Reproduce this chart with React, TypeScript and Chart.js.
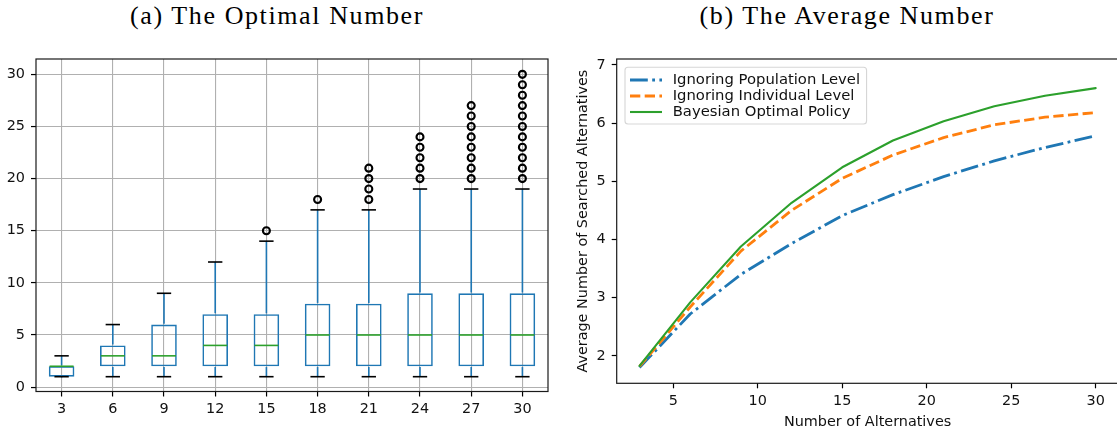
import React, { useEffect, useRef } from "react";
import { Chart, registerables } from "chart.js";

Chart.register(...registerables);

// ---------- Data: (a) The Optimal Number (box plot) ----------
const boxCategories = ["3", "6", "9", "12", "15", "18", "21", "24", "27", "30"];
const whiskerLow = [1, 1, 1, 1, 1, 1, 1, 1, 1, 1];
const quartile1 = [1, 2, 2, 2, 2, 2, 2, 2, 2, 2];
const medians = [2, 3, 3, 4, 4, 5, 5, 5, 5, 5];
const quartile3 = [2, 4, 6, 7, 7, 8, 8, 9, 9, 9];
const whiskerHigh = [3, 6, 9, 12, 14, 17, 17, 19, 19, 19];
const outliers = [
  [],
  [],
  [],
  [],
  [15],
  [18],
  [18, 19, 20, 21],
  [20, 21, 22, 23, 24],
  [20, 21, 22, 23, 24, 25, 26, 27],
  [20, 21, 22, 23, 24, 25, 26, 27, 28, 29, 30],
];
const boxYTicks = [0, 5, 10, 15, 20, 25, 30];

// ---------- Data: (b) The Average Number (lines) ----------
const alternatives = [3, 6, 9, 12, 15, 18, 21, 24, 27, 30];
const ignoringPopulation = [1.8, 2.72, 3.4, 3.93, 4.41, 4.77, 5.08, 5.35, 5.58, 5.78];
const ignoringIndividual = [1.82, 2.84, 3.8, 4.5, 5.05, 5.45, 5.75, 5.97, 6.1, 6.18];
const bayesianOptimal = [1.83, 2.92, 3.88, 4.63, 5.24, 5.7, 6.03, 6.29, 6.47, 6.6];
const seriesLabels = ["Ignoring Population Level", "Ignoring Individual Level", "Bayesian Optimal Policy"];
const lineXTicks = [5, 10, 15, 20, 25, 30];
const lineYTicks = [2, 3, 4, 5, 6, 7];

const BLUE = "#1f77b4";
const ORANGE = "#ff7f0e";
const GREEN = "#2ca02c";
const GRID = "#b0b0b0";
const TEXT = "#111";
const SANS = "'DejaVu Sans', sans-serif";
const FS = 14.4;

const framePlugin = {
  id: "frame",
  afterDatasetsDraw(chart: any) {
    const { ctx, chartArea } = chart;
    ctx.save();
    ctx.strokeStyle = "#1a1a1a";
    ctx.lineWidth = 1.2;
    ctx.strokeRect(chartArea.left, chartArea.top, chartArea.right - chartArea.left, chartArea.bottom - chartArea.top);
    ctx.restore();
  },
};

const boxPartsPlugin = {
  id: "boxParts",
  afterDatasetsDraw(chart: any) {
    const { ctx } = chart;
    const xs = chart.scales.x;
    const ys = chart.scales.y;
    const catW = xs.getPixelForValue(1) - xs.getPixelForValue(0);
    const boxHalf = catW * 0.25;
    const capHalf = catW * 0.14;
    const seg = (x1: number, y1: number, x2: number, y2: number, color: string, w: number) => {
      ctx.beginPath();
      ctx.strokeStyle = color;
      ctx.lineWidth = w;
      ctx.moveTo(x1, y1);
      ctx.lineTo(x2, y2);
      ctx.stroke();
    };
    ctx.save();
    ctx.lineCap = "butt";
    boxCategories.forEach((_, i) => {
      const cx = xs.getPixelForValue(i);
      const yLow = ys.getPixelForValue(whiskerLow[i]);
      const yQ1 = ys.getPixelForValue(quartile1[i]);
      const yQ3 = ys.getPixelForValue(quartile3[i]);
      const yHigh = ys.getPixelForValue(whiskerHigh[i]);
      const yMed = ys.getPixelForValue(medians[i]);
      seg(cx, yQ3 - 0.8, cx, yHigh, BLUE, 1.6);
      seg(cx, yQ1 + 0.8, cx, yLow, BLUE, 1.6);
      seg(cx - capHalf, yHigh, cx + capHalf, yHigh, "#000", 1.6);
      seg(cx - capHalf, yLow, cx + capHalf, yLow, "#000", 1.6);
      seg(cx - boxHalf + 0.8, yMed, cx + boxHalf - 0.8, yMed, GREEN, 1.6);
    });
    ctx.restore();
  },
};

const legendPlugin = {
  id: "mplLegend",
  afterDraw(chart: any) {
    const { ctx, chartArea } = chart;
    const x0 = chartArea.left + 8.3;
    const y0 = chartArea.top + 8.3;
    ctx.save();
    ctx.font = `14.8px ${SANS}`;
    const widths = chart.data.datasets.map((d: any) => ctx.measureText(d.label).width);
    const maxW = Math.max(...widths);
    const w = 47.7 + maxW + 6.5;
    const h = 56.7;
    const r = 3;
    ctx.beginPath();
    ctx.moveTo(x0 + r, y0);
    ctx.lineTo(x0 + w - r, y0);
    ctx.arcTo(x0 + w, y0, x0 + w, y0 + r, r);
    ctx.lineTo(x0 + w, y0 + h - r);
    ctx.arcTo(x0 + w, y0 + h, x0 + w - r, y0 + h, r);
    ctx.lineTo(x0 + r, y0 + h);
    ctx.arcTo(x0, y0 + h, x0, y0 + h - r, r);
    ctx.lineTo(x0, y0 + r);
    ctx.arcTo(x0, y0, x0 + r, y0, r);
    ctx.closePath();
    ctx.fillStyle = "rgba(255,255,255,0.8)";
    ctx.fill();
    ctx.strokeStyle = "rgba(204,204,204,0.8)";
    ctx.lineWidth = 1.1;
    ctx.stroke();
    chart.data.datasets.forEach((d: any, i: number) => {
      const cy = y0 + 12.7 + i * 16;
      ctx.beginPath();
      ctx.setLineDash(d.borderDash || []);
      ctx.strokeStyle = d.borderColor;
      ctx.lineWidth = d.borderWidth;
      ctx.lineCap = "butt";
      ctx.moveTo(x0 + 5, cy);
      ctx.lineTo(x0 + 37, cy);
      ctx.stroke();
      ctx.setLineDash([]);
      ctx.fillStyle = TEXT;
      ctx.textBaseline = "middle";
      ctx.textAlign = "left";
      ctx.fillText(d.label, x0 + 47.7, cy + 0.5);
    });
    ctx.restore();
  },
};

function BoxChart() {
  const ref = useRef<HTMLCanvasElement | null>(null);
  useEffect(() => {
    if (!ref.current) return;
    const outlierPoints: { x: string; y: number }[] = [];
    outliers.forEach((vals, i) => vals.forEach((v) => outlierPoints.push({ x: boxCategories[i], y: v })));
    const chart = new Chart(ref.current, {
      type: "bar",
      data: {
        labels: boxCategories,
        datasets: [
          {
            type: "bar",
            data: quartile1.map((q, i) => [q, quartile3[i]]) as any,
            backgroundColor: "rgba(0,0,0,0)",
            borderColor: BLUE,
            borderWidth: 1.6,
            borderSkipped: false,
            barPercentage: 0.5,
            categoryPercentage: 1,
          } as any,
          {
            type: "line",
            data: outlierPoints as any,
            showLine: false,
            pointStyle: "circle",
            pointRadius: 3.5,
            pointBorderWidth: 2.1,
            pointBorderColor: "#000",
            pointBackgroundColor: "rgba(0,0,0,0)",
          } as any,
        ],
      },
      options: {
        animation: false,
        responsive: false,
        events: [],
        layout: { padding: { left: 0, top: 59, right: 12, bottom: 0 } },
        plugins: { legend: { display: false }, tooltip: { enabled: false }, title: { display: false } },
        scales: {
          x: {
            type: "category",
            offset: true,
            grid: { offset: false, color: GRID, lineWidth: 1.1, tickLength: 5, tickColor: "#000", tickWidth: 1.2 },
            border: { display: false },
            ticks: { font: { family: SANS, size: FS }, color: TEXT, padding: 4, maxRotation: 0, autoSkip: false },
            afterFit: (s: any) => {
              s.height = 42.5;
            },
          },
          y: {
            type: "linear",
            min: -0.42,
            max: 31.47,
            grid: { color: GRID, lineWidth: 1.1, tickLength: 5, tickColor: "#000", tickWidth: 1.2 },
            border: { display: false },
            afterBuildTicks: (s: any) => {
              s.ticks = boxYTicks.map((v) => ({ value: v }));
            },
            ticks: { font: { family: SANS, size: FS }, color: TEXT, padding: 6 },
            afterFit: (s: any) => {
              s.width = 36;
            },
          },
        },
      } as any,
      plugins: [framePlugin, boxPartsPlugin],
    });
    return () => chart.destroy();
  }, []);
  return <canvas ref={ref} width={560} height={434} style={{ position: "absolute", left: 0, top: 0, width: 560, height: 434 }} />;
}

function LineChart() {
  const ref = useRef<HTMLCanvasElement | null>(null);
  useEffect(() => {
    if (!ref.current) return;
    const chart = new Chart(ref.current, {
      type: "line",
      data: {
        labels: alternatives,
        datasets: [
          {
            label: seriesLabels[0],
            data: alternatives.map((x, i) => ({ x, y: ignoringPopulation[i] })),
            borderColor: BLUE,
            backgroundColor: BLUE,
            borderWidth: 2.8,
            borderDash: [17.8, 4.4, 2.8, 4.4],
            borderCapStyle: "butt",
            borderJoinStyle: "round",
            pointRadius: 0,
            tension: 0,
            order: 2,
          },
          {
            label: seriesLabels[1],
            data: alternatives.map((x, i) => ({ x, y: ignoringIndividual[i] })),
            borderColor: ORANGE,
            backgroundColor: ORANGE,
            borderWidth: 2.8,
            borderDash: [10.3, 4.4],
            borderCapStyle: "butt",
            borderJoinStyle: "round",
            pointRadius: 0,
            tension: 0,
            order: 1,
          },
          {
            label: seriesLabels[2],
            data: alternatives.map((x, i) => ({ x, y: bayesianOptimal[i] })),
            borderColor: GREEN,
            backgroundColor: GREEN,
            borderWidth: 2.1,
            borderCapStyle: "round",
            borderJoinStyle: "round",
            pointRadius: 0,
            tension: 0,
            order: 0,
          },
        ],
      },
      options: {
        animation: false,
        responsive: false,
        events: [],
        layout: { padding: { left: 0, top: 59, right: 11.5, bottom: 0 } },
        plugins: { legend: { display: false }, tooltip: { enabled: false }, title: { display: false } },
        scales: {
          x: {
            type: "linear",
            min: 1.65,
            max: 31.35,
            grid: { drawOnChartArea: false, drawTicks: true, tickLength: 5, tickColor: "#000", tickWidth: 1.2 },
            border: { display: false },
            afterBuildTicks: (s: any) => {
              s.ticks = lineXTicks.map((v) => ({ value: v }));
            },
            ticks: { font: { family: SANS, size: FS }, color: TEXT, padding: 4, maxRotation: 0 },
            title: {
              display: true,
              text: "Number of Alternatives",
              font: { family: SANS, size: FS },
              color: TEXT,
              padding: { top: 0, bottom: 3.4 },
            },
            afterFit: (s: any) => {
              s.height = 50.7;
            },
          },
          y: {
            type: "linear",
            min: 1.53,
            max: 7.1,
            grid: { drawOnChartArea: false, drawTicks: true, tickLength: 5, tickColor: "#000", tickWidth: 1.2 },
            border: { display: false },
            afterBuildTicks: (s: any) => {
              s.ticks = lineYTicks.map((v) => ({ value: v }));
            },
            ticks: { font: { family: SANS, size: FS }, color: TEXT, padding: 6 },
            title: {
              display: true,
              text: "Average Number of Searched Alternatives",
              font: { family: SANS, size: FS },
              color: TEXT,
              padding: { top: 14.4, bottom: 0 },
            },
            afterFit: (s: any) => {
              s.width = 56.7;
            },
          },
        },
      } as any,
      plugins: [framePlugin, legendPlugin],
    });
    return () => chart.destroy();
  }, []);
  return <canvas ref={ref} width={570} height={434} style={{ position: "absolute", left: 560, top: 0, width: 570, height: 434 }} />;
}

const titleStyle: React.CSSProperties = {
  position: "absolute",
  top: 0,
  width: 400,
  textAlign: "center",
  fontFamily: "'Liberation Serif', serif",
  fontSize: 26,
  lineHeight: "31px",
  color: "#000",
  letterSpacing: "1.6px",
  whiteSpace: "nowrap",
};

export default function App() {
  return (
    <div
      style={{
        position: "absolute",
        left: 0,
        top: 0,
        width: 1117,
        height: 434,
        overflow: "hidden",
        background: "#fff",
      }}
    >
      <div style={{ ...titleStyle, left: 277 - 200 }}>(a) The Optimal Number</div>
      <div style={{ ...titleStyle, left: 847 - 200 }}>(b) The Average Number</div>
      <BoxChart />
      <LineChart />
    </div>
  );
}
